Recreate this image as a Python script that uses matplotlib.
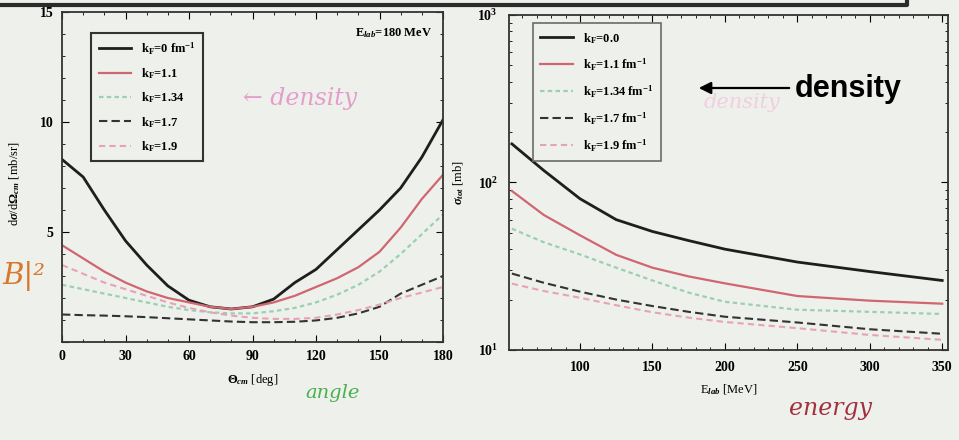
import matplotlib
matplotlib.use("Agg")
import matplotlib.pyplot as plt
from matplotlib.lines import Line2D
from matplotlib.patches import FancyArrowPatch
from matplotlib.ticker import AutoMinorLocator, LogLocator, NullFormatter

plt.rcParams['font.family'] = ['Liberation Serif', 'DejaVu Serif']
plt.rcParams['font.weight'] = 'bold'
plt.rcParams['mathtext.fontset'] = 'custom'
plt.rcParams['mathtext.rm'] = 'Liberation Serif:bold'
plt.rcParams['mathtext.it'] = 'Liberation Serif:bold:italic'
plt.rcParams['mathtext.bf'] = 'Liberation Serif:bold'

# ---- angular distribution, E_lab = 180 MeV ----
theta_deg = [0, 10, 20, 30, 40, 50, 60, 70, 80, 90, 100, 110, 120, 130, 140, 150, 160, 170, 180]
dsig_k00 = [8.3, 7.5, 6.0, 4.6, 3.5, 2.55, 1.9, 1.6, 1.5, 1.6, 1.95, 2.7, 3.3, 4.2, 5.1, 6.0, 7.0, 8.4, 10.1]
dsig_k11 = [4.4, 3.8, 3.2, 2.7, 2.3, 2.0, 1.8, 1.6, 1.5, 1.6, 1.8, 2.1, 2.5, 2.9, 3.4, 4.1, 5.2, 6.5, 7.6]
dsig_k134 = [2.6, 2.4, 2.2, 2.0, 1.8, 1.6, 1.45, 1.35, 1.3, 1.3, 1.4, 1.55, 1.8, 2.15, 2.6, 3.2, 4.0, 4.9, 5.8]
dsig_k17 = [1.25, 1.22, 1.2, 1.17, 1.13, 1.08, 1.03, 0.98, 0.93, 0.9, 0.9, 0.92, 0.98, 1.1, 1.3, 1.6, 2.2, 2.6, 3.0]
dsig_k19 = [3.5, 3.1, 2.7, 2.4, 2.1, 1.8, 1.55, 1.35, 1.2, 1.1, 1.05, 1.05, 1.1, 1.25, 1.45, 1.7, 2.0, 2.25, 2.5]
theta_ticks = [0, 30, 60, 90, 120, 150, 180]
dsig_ticks = [0, 5, 10, 15]

# ---- total cross section vs. lab energy ----
e_lab = [53, 75, 100, 125, 150, 175, 200, 250, 300, 350]
sig_k00 = [170, 118, 80, 60, 51, 45, 40, 33.5, 29.4, 26]
sig_k11 = [89, 64, 48.4, 37, 31, 27.5, 25, 21, 19.7, 18.9]
sig_k134 = [53, 44, 37.2, 31, 26, 22, 19.4, 17.4, 16.9, 16.4]
sig_k17 = [28.6, 25.2, 22.3, 20, 18.3, 16.9, 15.8, 14.6, 13.3, 12.5]
sig_k19 = [24.9, 22.5, 20.5, 18.5, 16.8, 15.6, 14.7, 13.5, 12.3, 11.5]
e_ticks = [100, 150, 200, 250, 300, 350]

labels_left = [r"k$_\mathrm{F}$=0 fm$^{-1}$", r"k$_\mathrm{F}$=1.1", r"k$_\mathrm{F}$=1.34",
               r"k$_\mathrm{F}$=1.7", r"k$_\mathrm{F}$=1.9"]
labels_right = [r"k$_\mathrm{F}$=0.0", r"k$_\mathrm{F}$=1.1 fm$^{-1}$", r"k$_\mathrm{F}$=1.34 fm$^{-1}$",
                r"k$_\mathrm{F}$=1.7 fm$^{-1}$", r"k$_\mathrm{F}$=1.9 fm$^{-1}$"]

styles = [
    dict(color='#1e1e1e', lw=2.0, ls='-'),
    dict(color='#d0666f', lw=1.6, ls='-'),
    dict(color='#9ccfb2', lw=1.6, ls=(0, (2, 1.5))),
    dict(color='#333333', lw=1.5, ls=(0, (4, 2))),
    dict(color='#e7a2b8', lw=1.5, ls=(0, (3, 2))),
]

BG = '#eef0ec'
W, H = 959, 440
fig = plt.figure(figsize=(W / 100, H / 100), dpi=100, facecolor=BG)


def px(x, y):
    return x / W, 1 - y / H


# frame edge of the page region above the plots
fig.add_artist(Line2D([0, 907 / W, 907 / W], [1 - 5 / H, 1 - 5 / H, 1.0],
                      transform=fig.transFigure, color='#2b2b2b', lw=3))

tick_fs = 10

# ---------------- left panel ----------------
axl = fig.add_axes([62 / W, (H - 342) / H, 381 / W, 330 / H], facecolor=BG)
for ys, st, lab in zip([dsig_k00, dsig_k11, dsig_k134, dsig_k17, dsig_k19], styles, labels_left):
    axl.plot(theta_deg, ys, label=lab, **st)
axl.set_xlim(0, 180)
axl.set_ylim(0, 15)
axl.set_xticks(theta_ticks)
axl.set_yticks(dsig_ticks)
axl.set_yticklabels(['', '5', '10', '15'])
axl.xaxis.set_minor_locator(AutoMinorLocator(3))
axl.yaxis.set_minor_locator(AutoMinorLocator(5))
axl.tick_params(which='both', direction='in', top=True, right=True, labelsize=tick_fs, pad=6)
axl.tick_params(which='major', length=5)
axl.tick_params(which='minor', length=2.5)
axl.set_xlabel(r"$\Theta_{cm}$ [deg]", fontsize=9, labelpad=6)
axl.set_ylabel(r"d$\sigma$/d$\Omega_{cm}$ [mb/sr]", fontsize=9, labelpad=10)
axl.yaxis.set_label_coords(-0.105, 0.48)
axl.text(0.87, 0.935, r"E$_{lab}$=180 MeV", transform=axl.transAxes, ha='center', va='center', fontsize=9)
legl = axl.legend(loc='upper left', bbox_to_anchor=(0.06, 0.955), fontsize=9, frameon=True,
                  fancybox=False, edgecolor='#333333', facecolor=BG, framealpha=1,
                  handlelength=2.6, labelspacing=0.75, borderpad=0.6)
legl.get_frame().set_linewidth(1.5)
for sp in axl.spines.values():
    sp.set_linewidth(1.3)
    sp.set_color('#333333')

# ---------------- right panel ----------------
axr = fig.add_axes([509 / W, (H - 350) / H, 439 / W, 335 / H], facecolor=BG)
for ys, st, lab in zip([sig_k00, sig_k11, sig_k134, sig_k17, sig_k19], styles, labels_right):
    axr.plot(e_lab, ys, label=lab, **st)
axr.set_yscale('log')
axr.set_xlim(51, 354)
axr.set_ylim(10, 1000)
axr.set_xticks(e_ticks)
axr.yaxis.set_major_locator(LogLocator(base=10))
axr.yaxis.set_minor_locator(LogLocator(base=10, subs=range(2, 10)))
axr.yaxis.set_minor_formatter(NullFormatter())
axr.xaxis.set_minor_locator(AutoMinorLocator(5))
axr.tick_params(which='both', direction='in', top=True, right=True, labelsize=tick_fs, pad=8)
axr.tick_params(which='major', length=5)
axr.tick_params(which='minor', length=2.5)
axr.set_xlabel(r"E$_{lab}$ [MeV]", fontsize=9, labelpad=6)
axr.set_ylabel(r"$\sigma_{tot}$ [mb]", fontsize=9, labelpad=8)
legr = axr.legend(loc='upper left', bbox_to_anchor=(0.04, 0.994), fontsize=9, frameon=True,
                  fancybox=False, edgecolor='#6a6a6a', facecolor=BG, framealpha=1,
                  handlelength=2.6, labelspacing=0.85, borderpad=0.6)
legr.get_frame().set_linewidth(1.2)
for sp in axr.spines.values():
    sp.set_linewidth(1.3)
    sp.set_color('#333333')

# ---------------- handwritten notes ----------------
hand = dict(family='DejaVu Serif', style='italic', weight='normal')
fig.text(*px(300, 98), "\u2190 density", color='#e48fc4', fontsize=17, ha='center', va='center', alpha=0.85, **hand)
fig.text(*px(742, 102), "density", color='#f2c6de', fontsize=15, ha='center', va='center', alpha=0.8, **hand)
fig.text(*px(333, 393), "angle", color='#4caf50', fontsize=14, ha='center', va='center', **hand)
fig.text(*px(830, 408), "energy", color='#a3303e', fontsize=17, ha='center', va='center', **hand)
fig.text(*px(24, 276), "B|\u00b2", color='#d9772a', fontsize=21, ha='center', va='center', **hand)

# ---------------- typed note with arrow ----------------
fig.add_artist(FancyArrowPatch(px(792, 88), px(696, 88), transform=fig.transFigure,
                               arrowstyle='-|>', mutation_scale=18, color='black', lw=1.6))
fig.text(*px(848, 89), "density", family='Liberation Sans', weight='bold', fontsize=22,
         ha='center', va='center', color='black')

fig.savefig("out.png", dpi=100, facecolor=BG)
